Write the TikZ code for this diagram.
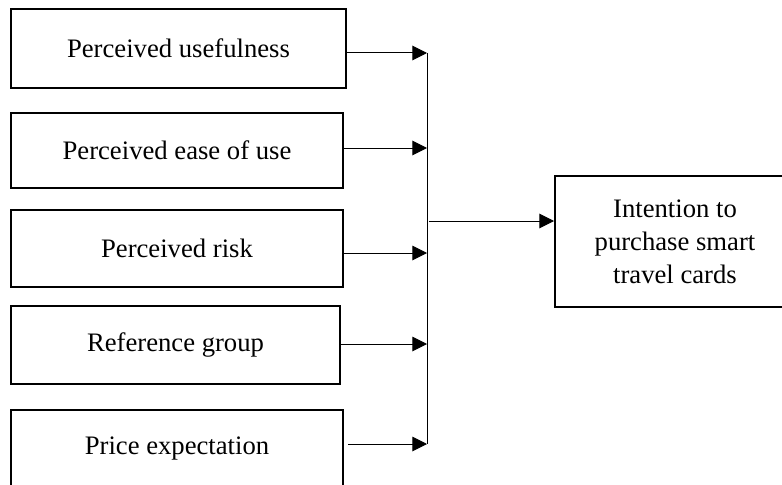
\documentclass[tikz,border=0pt]{standalone}
\usepackage{fontspec}
\setmainfont{Liberation Serif}
\usetikzlibrary{arrows.meta,positioning}

\begin{document}
\begin{tikzpicture}[x=0.75pt,y=-0.75pt,line width=0.75pt,
  factor/.style={draw,line width=1.5pt,minimum width=249pt,inner sep=0pt,
    font=\fontsize{20}{24.75}\selectfont},
  >={Triangle[length=11pt,width=11pt]}]
\useasboundingbox (0,0) rectangle (782,485);
% factors
\node[factor,minimum width=251.25pt,minimum height=59.25pt] (pu) at (178.5,48.5) {Perceived usefulness};
\node[factor,minimum height=56.25pt] (peou) at (177,150.5) {Perceived ease of use};
\node[factor,minimum height=57.75pt] (pr) at (177,248.5) {Perceived risk};
\node[factor,minimum width=246.75pt,minimum height=58.5pt] (rg) at (175.5,345) {Reference group};
\node[factor,minimum height=57.75pt] (pe) at (177,448.5) {Price expectation};
% outcome
\node[factor,minimum width=180pt,minimum height=98.25pt,align=center] (int) at (675,241.5)
  {Intention to\\purchase smart\\travel cards};
% bus points
\coordinate (b1) at (427,53);
\coordinate (b2) at (427,148);
\coordinate (b3) at (427,253);
\coordinate (b4) at (427,344);
\coordinate (b5) at (427,444);
\coordinate (bm) at (429,221);
\draw (b1) -- (b5);
\draw[->] (pu.east |- b1) -- (b1);
\draw[->] (peou.east |- b2) -- (b2);
\draw[->] (pr.east |- b3) -- (b3);
\draw[->] (rg.east |- b4) -- (b4);
\draw[->] ([xshift=3pt]pe.east |- b5) -- (b5);
\draw[->] (bm) -- (bm -| int.west);
\end{tikzpicture}
\end{document}
